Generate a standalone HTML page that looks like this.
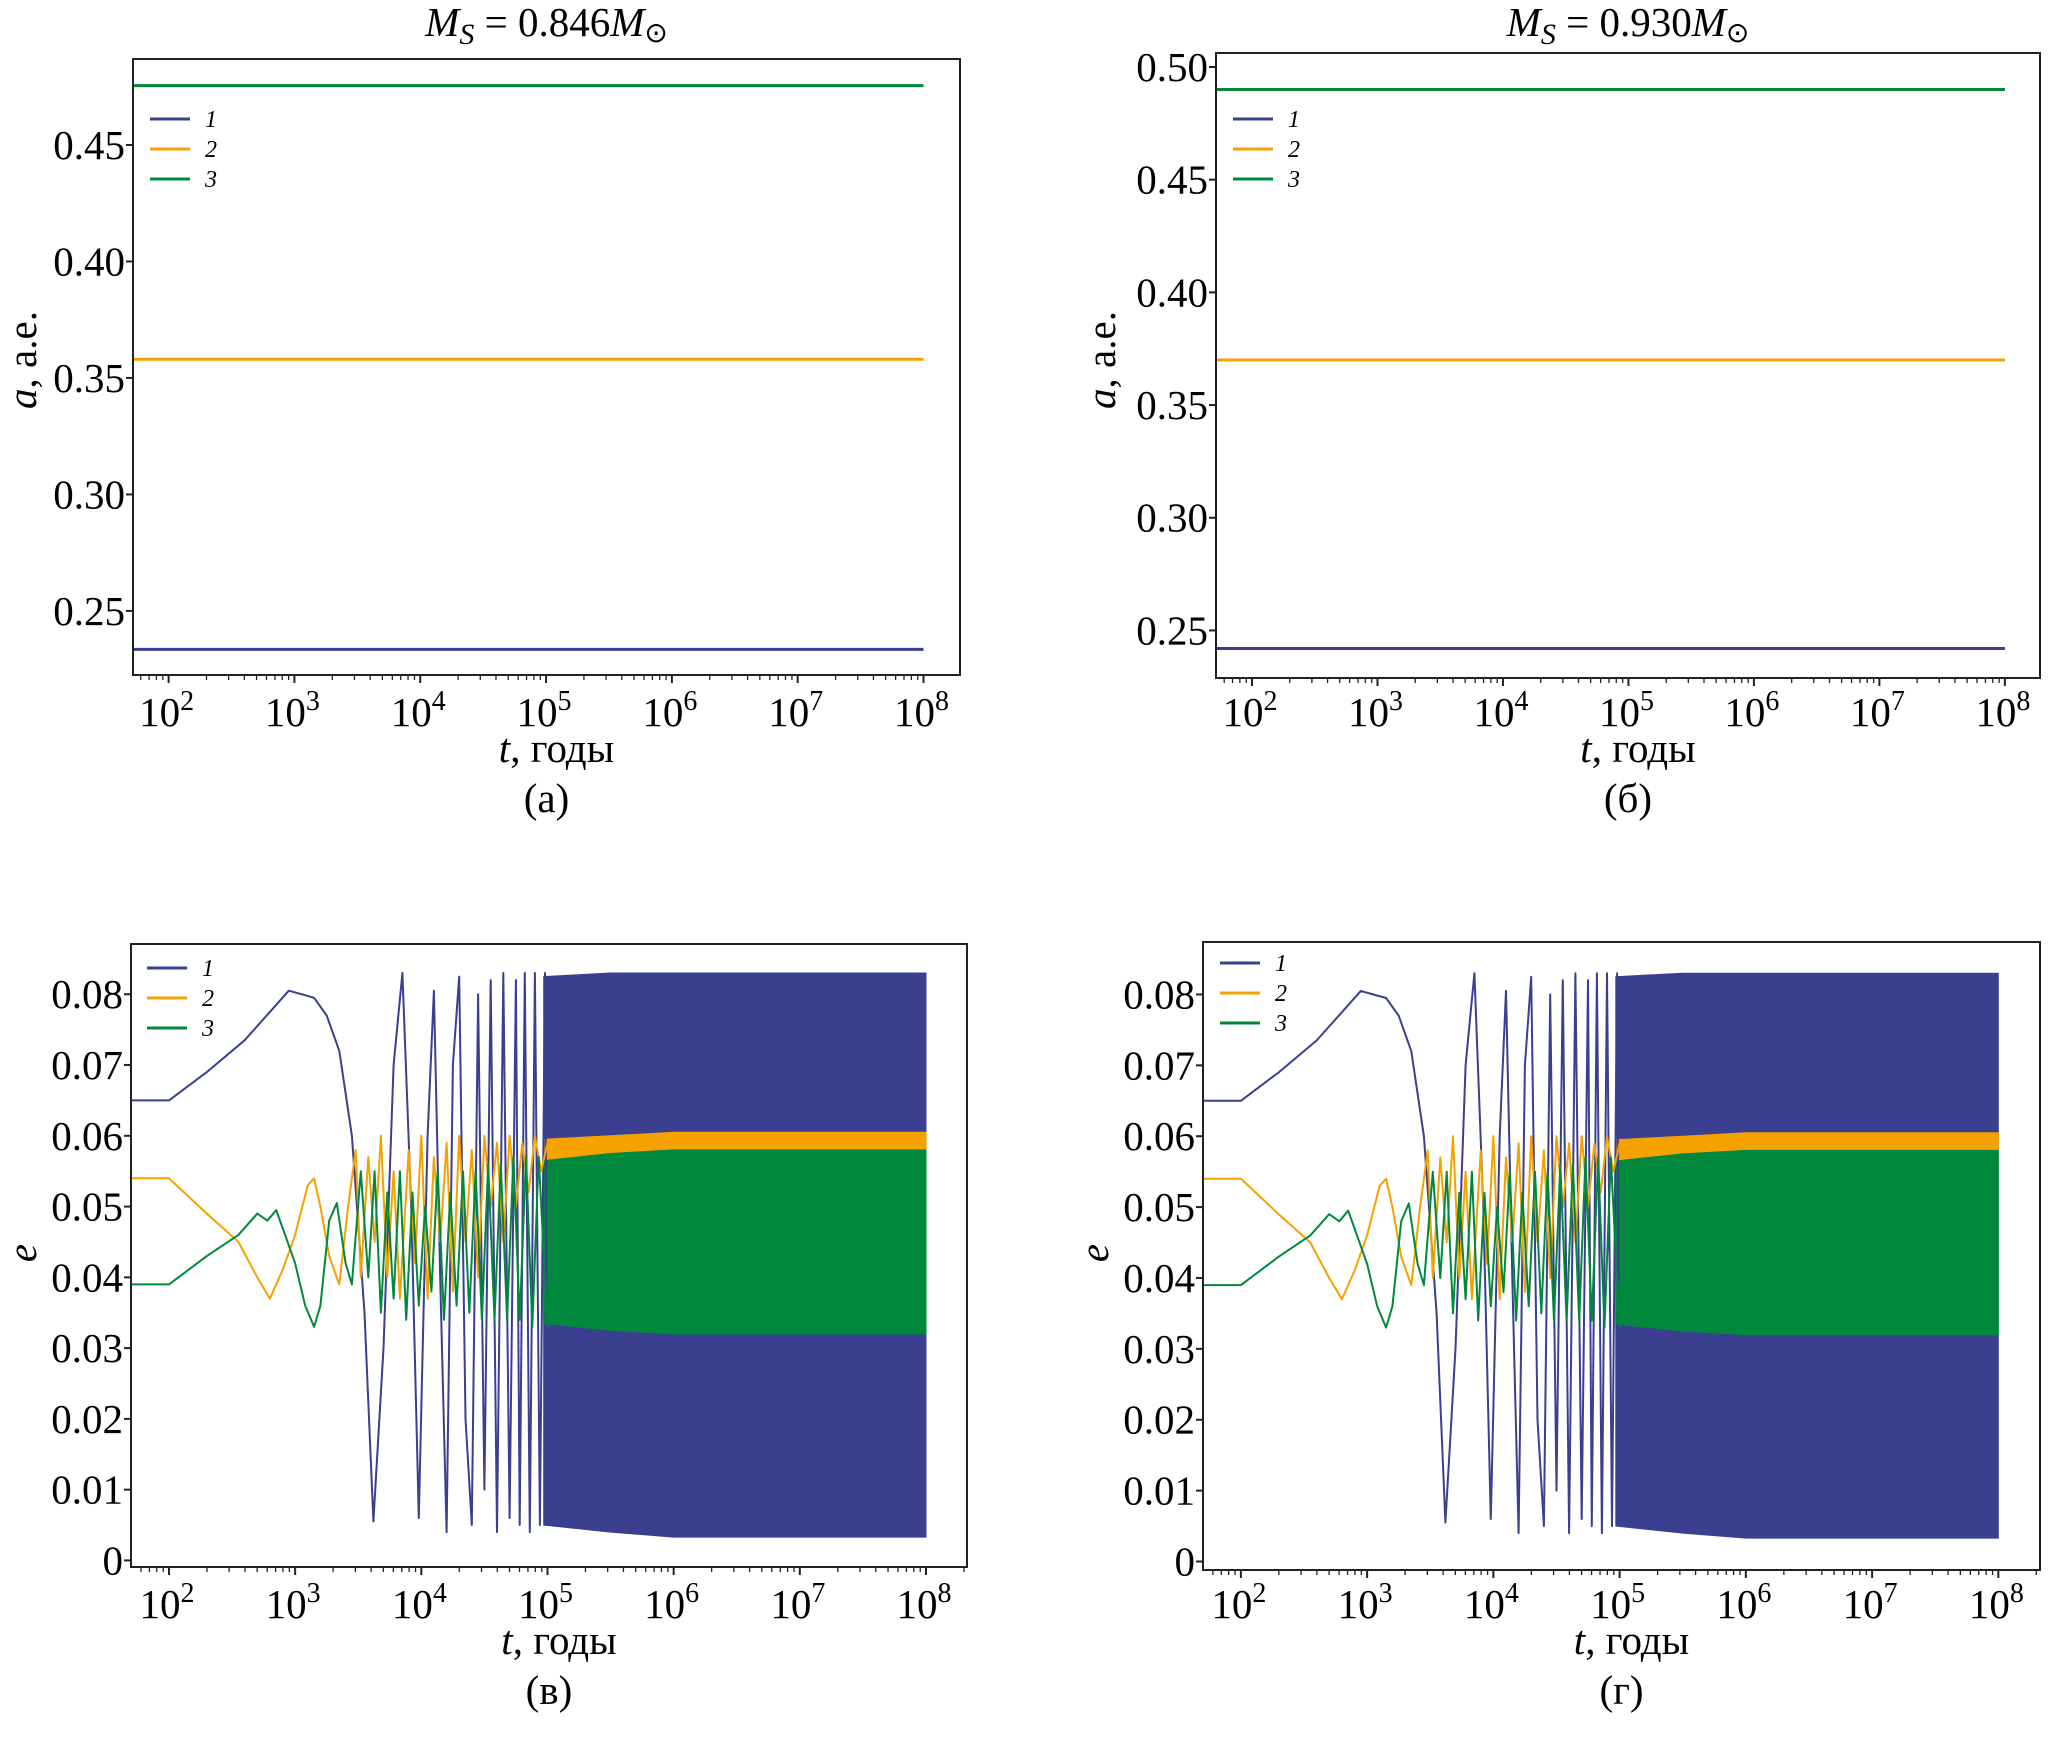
<!DOCTYPE html>
<html><head><meta charset="utf-8"><style>
html,body{margin:0;padding:0;background:#fff;}
svg{display:block;}
svg text{font-family:"Liberation Serif",serif;}
</style></head><body>
<svg id="fig" width="2068" height="1737" viewBox="0 0 2068 1737" xmlns="http://www.w3.org/2000/svg" font-family="Liberation Serif, serif"></svg>
<script>
// ---- data ----
const aLogT = [1.7, 8.0];
const aA1 = [0.2335, 0.2335];
const aA2 = [0.358, 0.358];
const aA3 = [0.4755, 0.4755];
const bA1 = [0.242, 0.242];
const bA2 = [0.370, 0.370];
const bA3 = [0.490, 0.490];
const yTicksA = [0.25, 0.30, 0.35, 0.40, 0.45];
const yTicksB = [0.25, 0.30, 0.35, 0.40, 0.45, 0.50];
const yTicksE = [0, 0.01, 0.02, 0.03, 0.04, 0.05, 0.06, 0.07, 0.08];
const xTickDecades = [2, 3, 4, 5, 6, 7, 8];
const e1T = [1.7,2.0,2.3,2.6,2.8,2.95,3.05,3.15,3.25,3.35,3.45,3.55,3.62,3.70,3.78,3.85,3.92,3.98,4.05,4.1,4.15,4.2,4.25,4.3,4.35,4.4,4.45,4.5,4.55,4.6,4.65,4.7,4.75,4.78,4.82,4.86,4.9,4.94,4.98,5.0];
const e1V = [0.065,0.065,0.069,0.0735,0.0775,0.0805,0.080,0.0795,0.077,0.072,0.060,0.035,0.0055,0.030,0.070,0.083,0.050,0.006,0.060,0.0805,0.040,0.004,0.070,0.0825,0.020,0.005,0.080,0.010,0.082,0.004,0.083,0.006,0.082,0.005,0.083,0.004,0.083,0.005,0.083,0.005];
const e2T = [1.7,2.0,2.3,2.55,2.7,2.8,2.9,3.0,3.1,3.15,3.2,3.27,3.35,3.42,3.48,3.52,3.58,3.63,3.68,3.73,3.78,3.83,3.9,3.95,4.0,4.05,4.1,4.15,4.2,4.25,4.3,4.35,4.4,4.45,4.5,4.55,4.6,4.65,4.7,4.75,4.8,4.85,4.9,4.95,5.0];
const e2V = [0.054,0.054,0.049,0.045,0.040,0.037,0.041,0.046,0.053,0.054,0.050,0.043,0.039,0.050,0.058,0.040,0.057,0.045,0.060,0.040,0.055,0.037,0.058,0.042,0.060,0.037,0.057,0.045,0.059,0.038,0.060,0.045,0.058,0.040,0.060,0.050,0.059,0.045,0.060,0.050,0.059,0.052,0.060,0.055,0.059];
const e3T = [1.7,2.0,2.3,2.55,2.7,2.78,2.85,2.92,3.0,3.08,3.15,3.2,3.27,3.33,3.4,3.45,3.52,3.58,3.63,3.68,3.73,3.78,3.83,3.88,3.93,3.98,4.03,4.08,4.13,4.18,4.23,4.28,4.33,4.38,4.43,4.48,4.53,4.58,4.63,4.68,4.73,4.78,4.83,4.88,4.93,5.0];
const e3V = [0.039,0.039,0.043,0.046,0.049,0.048,0.0495,0.046,0.042,0.036,0.033,0.036,0.048,0.0505,0.042,0.039,0.055,0.040,0.055,0.035,0.052,0.037,0.055,0.034,0.052,0.036,0.050,0.038,0.055,0.034,0.052,0.036,0.055,0.035,0.055,0.034,0.056,0.034,0.056,0.034,0.057,0.034,0.057,0.033,0.057,0.033];
const bandT = [4.97, 5.5, 6.0, 7.0, 8.0];
const band1Hi = [0.0825, 0.083, 0.083, 0.083, 0.083];
const band1Lo = [0.005, 0.004, 0.0033, 0.0033, 0.0033];
const band2Hi = [0.0595, 0.060, 0.0605, 0.0605, 0.0605];
const band2Lo = [0.055, 0.056, 0.057, 0.057, 0.057];
const band3Hi = [0.0565, 0.0575, 0.058, 0.058, 0.058];
const band3Lo = [0.0335, 0.0325, 0.032, 0.032, 0.032];

const C1 = '#3a3f8f', C2 = '#f5a200', C3 = '#00893c';
const NS = 'http://www.w3.org/2000/svg';
const svg = document.getElementById('fig');
function mk(tag, attrs, parent, text) {
  const e = document.createElementNS(NS, tag);
  for (const k in attrs) e.setAttribute(k, attrs[k]);
  if (text !== undefined) e.textContent = text;
  (parent || svg).appendChild(e);
  return e;
}

function panel(p) {
  const g = mk('g', {});
  
  
  const X = lt => p.x0 + (lt - p.lx0) / (p.lx1 - p.lx0) * (p.x1 - p.x0);
  const Y = v => p.y1 - (v - p.vy0) / (p.vy1 - p.vy0) * (p.y1 - p.y0);
  const cid = 'clip-' + p.name;
  const defs = mk('defs', {}, g);
  const cp = mk('clipPath', {id: cid}, defs);
  mk('rect', {x: p.x0, y: p.y0, width: p.x1 - p.x0, height: p.y1 - p.y0}, cp);
  const plot = mk('g', {'clip-path': 'url(#' + cid + ')'}, g);

  (p.bands || []).forEach(b => {
    let d = '';
    bandT.forEach((t, i) => { d += (i ? 'L' : 'M') + X(t).toFixed(1) + ',' + Y(b.hi[i]).toFixed(1); });
    for (let i = bandT.length - 1; i >= 0; i--) d += 'L' + X(bandT[i]).toFixed(1) + ',' + Y(b.lo[i]).toFixed(1);
    const band = mk('path', {d: d + 'Z', fill: b.c, stroke: b.c, 'stroke-width': 1}, plot);
    
    
  });
  p.series.forEach(s => {
    const pts = s.t.map((t, i) => X(t).toFixed(1) + ',' + Y(s.v[i]).toFixed(1)).join(' ');
    const ln = mk('polyline', {points: pts, fill: 'none', stroke: s.c, 'stroke-width': s.w, 'stroke-linejoin': 'round'}, plot);
    
    
  });
  const fr = mk('rect', {x: p.x0, y: p.y0, width: p.x1 - p.x0, height: p.y1 - p.y0, fill: 'none', stroke: '#222', 'stroke-width': 2}, g);
  
  
  p.yticks.forEach(v => {
    const y = Y(v);
    mk('line', {x1: p.x0 - 7, x2: p.x0, y1: y, y2: y, stroke: '#222', 'stroke-width': 2}, g);
    const lab = mk('text', {x: p.x0 - 8, y: y + 14, 'font-size': 41, 'text-anchor': 'end'}, g, v === 0 ? '0' : v.toFixed(p.dec));
    
    
  });
  for (let d = 1; d <= 8; d++) {
    for (let m = 1; m <= 9; m++) {
      const lt = d + Math.log10(m);
      if (lt < p.lx0 || lt > p.lx1) continue;
      const len = m === 1 ? 8 : 5;
      mk('line', {x1: X(lt), x2: X(lt), y1: p.y1, y2: p.y1 + len, stroke: '#222', 'stroke-width': m === 1 ? 2 : 1.3}, g);
    }
  }
  xTickDecades.forEach(d => {
    const lab = mk('text', {x: X(d) - 2, y: p.xtl + 2, 'font-size': 41, 'text-anchor': 'middle'}, g);
    
    
    mk('tspan', {}, lab, '10');
    mk('tspan', {dy: -16, 'font-size': 28}, lab, String(d));
  });
  const cx = (p.x0 + p.x1) / 2;
  const xl = mk('text', {x: cx + 10, y: p.xtl + 38, 'font-size': 41, 'text-anchor': 'middle'}, g);
  
  
  mk('tspan', {'font-style': 'italic'}, xl, 't');
  mk('tspan', {}, xl, ', годы');
  const cap = mk('text', {x: cx, y: p.xtl + 88, 'font-size': 41, 'text-anchor': 'middle'}, g, p.cap);
  
  
  const yl = mk('text', {x: 0, y: 0, 'font-size': 41, 'text-anchor': 'middle', transform: 'translate(' + p.ylx + ',' + p.yly + ') rotate(-90)'}, g);
  
  
  mk('tspan', {'font-style': 'italic'}, yl, p.ylab);
  if (p.ylab2) mk('tspan', {}, yl, p.ylab2);
  if (p.title) {
    const t = mk('text', {x: cx, y: 36, 'font-size': 41, 'text-anchor': 'middle'}, g);
    
    
    mk('tspan', {'font-style': 'italic'}, t, 'M');
    mk('tspan', {'font-style': 'italic', 'font-size': 30, dy: 8}, t, 'S');
    mk('tspan', {dy: -8}, t, ' = ' + p.title);
    mk('tspan', {'font-style': 'italic'}, t, 'M');
    mk('tspan', {'font-size': 28, dy: 6}, t, '\u2299');
  }
  const lg = mk('g', {}, g);
  
  
  [[C1, '1'], [C2, '2'], [C3, '3']].forEach((e, i) => {
    const y = p.legY + i * 30;
    const en = mk('g', {}, lg);
    
    
    mk('line', {x1: p.legX, x2: p.legX + 40, y1: y, y2: y, stroke: e[0], 'stroke-width': 3}, en);
    mk('text', {x: p.legX + 55, y: y + 8, 'font-size': 24, 'font-style': 'italic'}, en, e[1]);
  });
}

panel({name: 'panel-a', x0: 133, x1: 960, y0: 59, y1: 675, lx0: 1.717, lx1: 8.29, vy0: 0.2225, vy1: 0.4869,
  yticks: yTicksA, dec: 2, xtl: 724, cap: '(а)', ylab: 'a', ylab2: ', а.е.', ylx: 36, yly: 360,
  title: '0.846', legX: 150, legY: 119,
  series: [{t: aLogT, v: aA1, c: C1, w: 3, name: 'line-a-planet-1'}, {t: aLogT, v: aA2, c: C2, w: 3, name: 'line-a-planet-2'}, {t: aLogT, v: aA3, c: C3, w: 3, name: 'line-a-planet-3'}]});
panel({name: 'panel-b', x0: 1216, x1: 2040, y0: 53, y1: 678, lx0: 1.713, lx1: 8.28, vy0: 0.2289, vy1: 0.5062,
  yticks: yTicksB, dec: 2, xtl: 724, cap: '(б)', ylab: 'a', ylab2: ', а.е.', ylx: 1115, yly: 360,
  title: '0.930', legX: 1233, legY: 119,
  series: [{t: aLogT, v: bA1, c: C1, w: 3, name: 'line-a-planet-1'}, {t: aLogT, v: bA2, c: C2, w: 3, name: 'line-a-planet-2'}, {t: aLogT, v: bA3, c: C3, w: 3, name: 'line-a-planet-3'}]});
const eBands = [{hi: band1Hi, lo: band1Lo, c: C1, name: 'band-e-planet-1'}, {hi: band2Hi, lo: band2Lo, c: C2, name: 'band-e-planet-2'}, {hi: band3Hi, lo: band3Lo, c: C3, name: 'band-e-planet-3'}];
const eSeries = [{t: e1T, v: e1V, c: C1, w: 2, name: 'line-e-planet-1'}, {t: e2T, v: e2V, c: C2, w: 2, name: 'line-e-planet-2'}, {t: e3T, v: e3V, c: C3, w: 2, name: 'line-e-planet-3'}];
panel({name: 'panel-v', x0: 131, x1: 967, y0: 944, y1: 1567, lx0: 1.699, lx1: 8.325, vy0: -0.00093, vy1: 0.0871,
  yticks: yTicksE, dec: 2, xtl: 1616, cap: '(в)', ylab: 'e', ylx: 36, yly: 1253,
  legX: 147, legY: 968, bands: eBands, series: eSeries});
panel({name: 'panel-g', x0: 1203, x1: 2040, y0: 942, y1: 1570, lx0: 1.70, lx1: 8.33, vy0: -0.0012, vy1: 0.0874,
  yticks: yTicksE, dec: 2, xtl: 1616, cap: '(г)', ylab: 'e', ylx: 1108, yly: 1253,
  legX: 1220, legY: 963, bands: eBands, series: eSeries});
</script>
</body></html>
